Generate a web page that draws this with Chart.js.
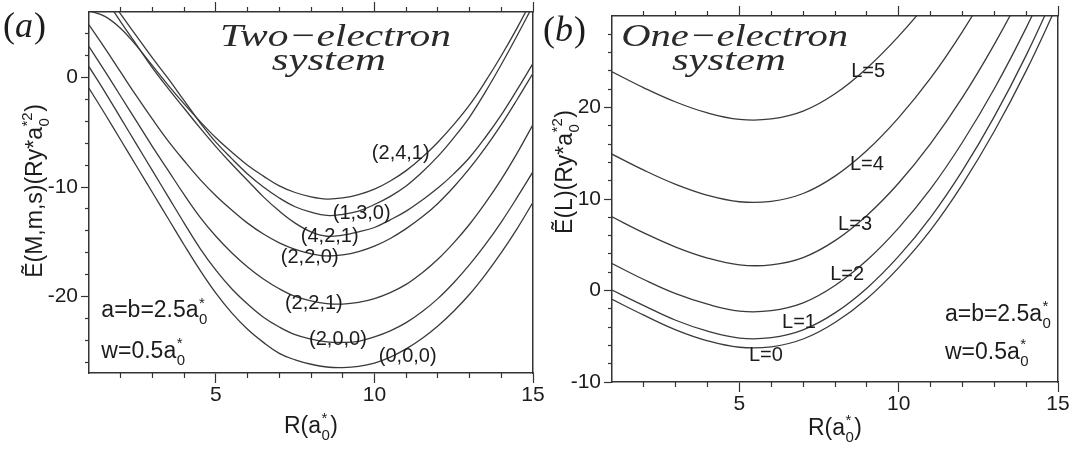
<!DOCTYPE html>
<html><head><meta charset="utf-8">
<script src="https://cdn.jsdelivr.net/npm/chart.js@4/dist/chart.umd.min.js"></script>
<style>
html,body{margin:0;padding:0;background:#fff;}
#wrap{position:relative;width:1078px;height:452px;overflow:hidden;background:#fff;}
#ca{position:absolute;left:0;top:0;width:560px;height:452px;}
#cb{position:absolute;left:540px;top:0;width:538px;height:452px;}
</style></head><body>
<div id="wrap"><canvas id="ca" width="560" height="452"></canvas><canvas id="cb" width="538" height="452"></canvas></div>
<script>
// ---------------- data: panel (a) two-electron system ----------------
const R_A = [1,1.5,2,2.5,3,3.5,4,4.5,5,5.5,6,6.5,7,7.5,8,8.5,9,9.5,10,10.5,11,11.5,12,12.5,13,13.5,14,14.5,15];
const E_241 = [6.1,5.6,4.5,2.9,1.1,-0.7,-2.4,-4.0,-5.5,-6.8,-8.0,-9.0,-9.9,-10.5,-10.9,-11.1,-11.0,-10.7,-10.2,-9.45,-8.5,-7.3,-5.9,-4.3,-2.5,-0.35,2.0,4.55,7.3];
const E_130 = [9.9,7.9,5.8,3.8,1.8,-0.1,-2.1,-4.1,-5.9,-7.4,-8.8,-10.0,-11.0,-11.8,-12.3,-12.6,-12.5,-12.2,-11.6,-10.85,-9.9,-8.65,-7.2,-5.5,-3.6,-1.3,1.2,3.85,6.6];
const E_421 = [9.4,7.3,5.1,3.0,0.9,-1.0,-2.8,-4.6,-6.3,-7.9,-9.4,-10.9,-12.2,-13.3,-14.1,-14.5,-14.4,-14.1,-13.7,-13.0,-12.2,-11.2,-10.1,-8.8,-7.3,-5.45,-3.4,-1.1,1.3];
const E_220 = [4.83,2.7,0.5,-1.7,-3.8,-5.8,-7.6,-9.3,-10.8,-12.1,-13.3,-14.3,-15.1,-15.7,-16.1,-16.3,-16.2,-15.9,-15.4,-14.7,-13.8,-12.75,-11.5,-10.0,-8.3,-6.4,-4.3,-2.0,0.4];
const E_221 = [2.84,0.6,-1.7,-4.0,-6.3,-8.5,-10.7,-12.75,-14.5,-16.0,-17.3,-18.4,-19.3,-20.0,-20.4,-20.65,-20.7,-20.55,-20.2,-19.65,-18.9,-17.85,-16.6,-15.1,-13.4,-11.45,-9.3,-6.9,-4.3];
const E_200 = [1.0,-1.3,-3.7,-6.1,-8.5,-10.9,-13.3,-15.6,-17.6,-19.3,-20.7,-21.9,-22.8,-23.5,-23.9,-24.15,-24.2,-24.1,-23.7,-23.15,-22.4,-21.4,-20.2,-18.75,-17.1,-15.25,-13.2,-10.95,-8.6];
const E_000 = [-0.97,-3.3,-5.7,-8.1,-10.5,-12.9,-15.3,-17.6,-19.7,-21.5,-23.0,-24.2,-25.2,-25.8,-26.2,-26.45,-26.5,-26.4,-26.1,-25.55,-24.8,-23.85,-22.7,-21.35,-19.8,-18.0,-16.0,-13.8,-11.4];
const SERIES_A = [E_241,E_130,E_421,E_220,E_221,E_200,E_000];
const NAMES_A = ['(2,4,1)','(1,3,0)','(4,2,1)','(2,2,0)','(2,2,1)','(2,0,0)','(0,0,0)'];
const NAME_AT_A = [[10.83,-6.9],[9.6,-12.4],[8.59,-14.5],[7.96,-16.45],[8.09,-20.6],[8.85,-23.9],[11.05,-25.5]];

// ---------------- data: panel (b) one-electron system ----------------
const R_B = [1,2,3,4,5,6,7,8,9,10,11,12,13,14,15];
const E_L0 = [-0.97,-2.7,-4.3,-5.5,-6.2,-6.15,-5.3,-3.5,-0.9,2.5,6.6,11.6,17.4,24.0,31.4];
const E_L1 = [0.04,-1.65,-3.25,-4.45,-5.2,-5.15,-4.3,-2.45,0.25,3.75,8.0,13.1,19.0,25.7,33.2];
const E_L2 = [2.95,1.2,-0.35,-1.5,-2.25,-2.2,-1.35,0.55,3.3,6.85,11.1,16.2,22.05,28.7,36.1];
const E_L3 = [8.05,6.3,4.75,3.55,2.8,2.8,3.6,5.45,8.2,11.75,16.05,21.1,26.9,33.4,40.6];
const E_L4 = [14.9,13.15,11.6,10.4,9.7,9.75,10.6,12.5,15.3,18.9,23.2,28.3,34.1,40.6,47.8];
const E_L5 = [23.9,22.15,20.6,19.4,18.7,18.75,19.6,21.5,24.3,27.8,31.9,36.8,42.4,48.7,55.7];
const SERIES_B = [E_L5,E_L4,E_L3,E_L2,E_L1,E_L0];
const NAMES_B = ['L=5','L=4','L=3','L=2','L=1','L=0'];
const NAME_AT_B = [[9.04,23.9],[9.0,13.74],[8.63,7.2],[8.38,1.74],[6.87,-3.5],[5.83,-7.1]];

// ---------------- ticks ----------------
const X_MAJOR = [5,10,15];
const X_MINOR = [2,3,4,6,7,8,9,11,12,13,14];
const YA_MAJOR = [-20,-10,0];
const YA_MINOR = [-26,-24,-22,-18,-16,-14,-12,-8,-6,-4,-2,2,4];
const YB_MAJOR = [-10,0,10,20];
const YB_MINOR = [-8,-6,-4,-2,2,4,6,8,12,14,16,18,22,24,26,28];

// ---------------- styling ----------------
const FONT = '"Liberation Sans", Arial, sans-serif';
const SERIF = '"Liberation Serif", "Times New Roman", serif';
const INK = '#1c1c1c', LINE = '#3a3a3a', AXIS = '#333';

function drawRich(ctx, x, y, parts, size, align) {
  const sm = Math.round(size * 0.65);
  const segs = []; let w = 0;
  for (const p of parts) {
    if (typeof p === 'string') {
      ctx.font = size + 'px ' + FONT;
      const m = ctx.measureText(p).width; segs.push({t: p, w: m}); w += m;
    } else {
      ctx.font = sm + 'px ' + FONT;
      const a = p.sub ? ctx.measureText(p.sub).width : 0;
      const b = p.sup ? ctx.measureText(p.sup).width : 0;
      const m = Math.max(a, b) + 1; segs.push({sub: p.sub, sup: p.sup, w: m}); w += m;
    }
  }
  let cx = align === 'center' ? x - w / 2 : (align === 'right' ? x - w : x);
  ctx.textAlign = 'left'; ctx.textBaseline = 'alphabetic'; ctx.fillStyle = INK;
  for (const s of segs) {
    if (s.t !== undefined) { ctx.font = size + 'px ' + FONT; ctx.fillText(s.t, cx, y); }
    else {
      ctx.font = sm + 'px ' + FONT;
      if (s.sub) ctx.fillText(s.sub, cx + 0.5, y + size * 0.3);
      if (s.sup) ctx.fillText(s.sup, cx + 0.5, y - size * 0.42);
    }
    cx += s.w;
  }
}
function drawFit(ctx, text, cx, y, width, font) {
  ctx.font = font; const m = ctx.measureText(text).width;
  ctx.save(); ctx.translate(cx, y); ctx.scale(width / m, 1);
  ctx.textAlign = 'center'; ctx.textBaseline = 'alphabetic'; ctx.fillStyle = '#2a2a2a';
  ctx.fillText(text, 0, 0); ctx.restore();
}

function makeScales(c) {
  const fix = (w, h) => s => {
    if (w != null) s.width = w; if (h != null) s.height = h;
    s.paddingLeft = 0; s.paddingRight = 0; s.paddingTop = 0; s.paddingBottom = 0;
  };
  const put = arr => s => { s.ticks = arr.map(v => ({value: v})); };
  const tickFont = {family: FONT, size: 21};
  const grid = len => ({display: true, drawOnChartArea: false, drawTicks: len > 0, tickLength: len, tickColor: AXIS, tickWidth: 1.2});
  const border = {display: true, color: AXIS, width: 1.5};
  const X = {type: 'linear', min: c.xMin, max: c.xMax};
  const Y = {type: 'linear', min: c.yMin, max: c.yMax};
  return {
    x: {...X, position: 'bottom', afterBuildTicks: put(c.xMajor), afterFit: fix(null, c.bottom),
        ticks: {font: tickFont, color: INK, padding: 0, maxRotation: 0, autoSkip: false}, grid: grid(10), border},
    xMinor: {...X, position: 'bottom', weight: -10, afterBuildTicks: put(c.xMinorT), afterFit: fix(null, 0),
        ticks: {display: false}, grid: grid(5), border: {display: false}},
    xTop: {...X, position: 'top', afterBuildTicks: put(c.xMajor), afterFit: fix(null, c.top),
        ticks: {display: false}, grid: grid(10), border},
    xTopMinor: {...X, position: 'top', weight: -10, afterBuildTicks: put(c.xMinorT), afterFit: fix(null, 0),
        ticks: {display: false}, grid: grid(5), border: {display: false}},
    y: {...Y, position: 'left', afterBuildTicks: put(c.yMajor), afterFit: fix(c.left, null),
        ticks: {font: tickFont, color: INK, padding: 3}, grid: grid(8), border},
    yMinor: {...Y, position: 'left', weight: -10, afterBuildTicks: put(c.yMinorT), afterFit: fix(0, null),
        ticks: {display: false}, grid: grid(4), border: {display: false}},
    yRight: {...Y, position: 'right', afterFit: fix(c.right, null),
        ticks: {display: false}, grid: {display: true, drawOnChartArea: false, drawTicks: false}, border}
  };
}

function makeChart(id, c) {
  const datasets = c.series.map(ys => ({
    data: c.xs.map((x, i) => ({x: x, y: ys[i]})),
    borderColor: LINE, borderWidth: 1.3, pointRadius: 0, fill: false,
    tension: 0.4
  }));
  const textPlugin = {
    id: 'texts',
    afterDraw(chart) {
      const ctx = chart.ctx, xs = chart.scales.x, ys = chart.scales.y, area = chart.chartArea;
      ctx.save();
      ctx.fillStyle = INK;
      // curve labels
      ctx.font = '20px ' + FONT; ctx.textAlign = 'center'; ctx.textBaseline = 'middle';
      c.names.forEach((n, i) => ctx.fillText(n, xs.getPixelForValue(c.nameAt[i][0]), ys.getPixelForValue(c.nameAt[i][1])));
      // parameter notes
      drawRich(ctx, xs.getPixelForValue(c.note[0]), ys.getPixelForValue(c.note[1]), ['a=b=2.5a', {sub: '0', sup: '*'}], 23, 'left');
      drawRich(ctx, xs.getPixelForValue(c.note[0]), ys.getPixelForValue(c.note[2]), ['w=0.5a', {sub: '0', sup: '*'}], 23, 'left');
      // system titles
      const tf = 'italic 32px ' + SERIF;
      drawFit(ctx, c.title1, xs.getPixelForValue(c.t1[0]), ys.getPixelForValue(c.t1[1]), c.t1[2], tf);
      drawFit(ctx, 'system', xs.getPixelForValue(c.t2[0]), ys.getPixelForValue(c.t2[1]), c.t2[2], tf);
      // panel letter
      ctx.fillStyle = INK; ctx.textAlign = 'left'; ctx.textBaseline = 'alphabetic';
      ctx.font = '36px ' + SERIF; let px = c.letter[0];
      ctx.fillText('(', px, c.letter[1]); px += ctx.measureText('(').width;
      ctx.font = 'italic 36px ' + SERIF; ctx.fillText(c.letterCh, px, c.letter[1]); px += ctx.measureText(c.letterCh).width + 1;
      ctx.font = '36px ' + SERIF; ctx.fillText(')', px, c.letter[1]);
      // x title
      drawRich(ctx, (area.left + area.right) / 2, c.xTitleY, ['R(a', {sub: '0', sup: '*'}, ')'], 23, 'center');
      // y title
      ctx.save(); ctx.translate(c.yTitle[0], c.yTitle[1]); ctx.rotate(-Math.PI / 2);
      drawRich(ctx, 0, 0, [c.yTitleText, {sub: '0', sup: '*2'}, ')'], 23, 'center');
      ctx.restore();
      ctx.restore();
    }
  };
  return new Chart(document.getElementById(id), {
    type: 'line',
    data: {datasets},
    options: {
      responsive: false, animation: false, events: [],
      layout: {padding: 0},
      plugins: {legend: {display: false}, tooltip: {enabled: false}},
      scales: makeScales(c)
    },
    plugins: [textPlugin]
  });
}

makeChart('ca', {
  xs: R_A, series: SERIES_A, names: NAMES_A, nameAt: NAME_AT_A,
  xMin: 1, xMax: 15, yMin: -27, yMax: 6,
  xMajor: X_MAJOR, xMinorT: X_MINOR, yMajor: YA_MAJOR, yMinorT: YA_MINOR,
  left: 89, right: 27, top: 12, bottom: 79,
  note: [1.39, -21.9, -25.6],
  title1: 'Two\u2212electron', t1: [8.77, 2.9, 231], t2: [8.56, 0.7, 114],
  letter: [3, 37], letterCh: 'a',
  xTitleY: 433, yTitle: [42, 191], yTitleText: '\u1EBC(M,m,s)(Ry*a'
});
makeChart('cb', {
  xs: R_B, series: SERIES_B, names: NAMES_B, nameAt: NAME_AT_B,
  xMin: 1, xMax: 15, yMin: -10, yMax: 30,
  xMajor: X_MAJOR, xMinorT: X_MINOR, yMajor: YB_MAJOR, yMinorT: YB_MINOR,
  left: 72, right: 20, top: 16, bottom: 70,
  note: [11.45, -3.35, -7.5],
  title1: 'One\u2212electron', t1: [4.85, 26.7, 227], t2: [4.67, 24.1, 114],
  letter: [3, 41], letterCh: 'b',
  xTitleY: 435, yTitle: [32, 172], yTitleText: '\u1EBC(L)(Ry*a'
});
</script>
</body></html>
